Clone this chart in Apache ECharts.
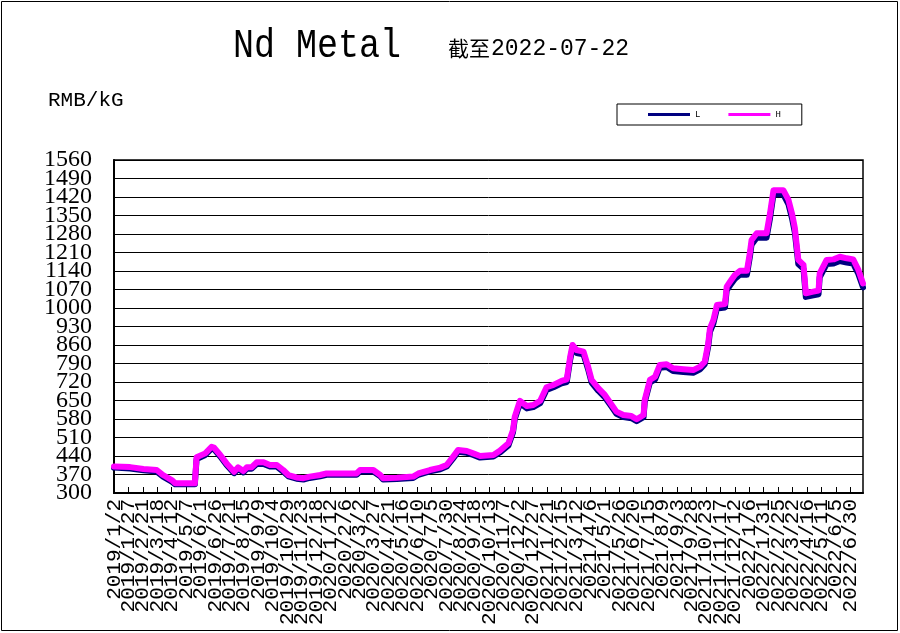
<!DOCTYPE html>
<html>
<head>
<meta charset="utf-8">
<script src="https://cdn.jsdelivr.net/npm/echarts@6/dist/echarts.min.js"></script>
<style>html,body{margin:0;padding:0;background:#fff}#c{width:900px;height:633px}</style>
</head>
<body>
<div id="c"></div>
<script>
// Category range (daily)
const startDate = '2019-01-02';
const endDate = '2022-07-22';
// Y tick labels
const yTicks = [300,370,440,510,580,650,720,790,860,930,1000,1070,1140,1210,1280,1350,1420,1490,1560];
// Breakpoint dates
const dates = ['2019/1/2','2019/1/30','2019/2/22','2019/3/17','2019/3/28','2019/4/12','2019/4/18','2019/5/22','2019/5/25','2019/6/9','2019/6/20','2019/6/24','2019/7/5','2019/7/16','2019/7/29','2019/8/5','2019/8/14','2019/8/20','2019/8/28','2019/9/6','2019/9/18','2019/9/29','2019/10/11','2019/10/22','2019/10/31','2019/11/14','2019/11/26','2019/12/7','2019/12/25','2020/1/5','2020/2/3','2020/2/26','2020/3/3','2020/3/26','2020/4/7','2020/4/12','2020/5/6','2020/6/3','2020/6/12','2020/7/2','2020/7/20','2020/7/31','2020/8/11','2020/8/20','2020/9/4','2020/9/15','2020/9/27','2020/10/20','2020/10/31','2020/11/15','2020/11/23','2020/11/26','2020/12/5','2020/12/17','2020/12/28','2021/1/9','2021/1/20','2021/2/1','2021/2/15','2021/2/24','2021/3/2','2021/3/6','2021/3/13','2021/3/25','2021/4/2','2021/4/8','2021/4/20','2021/5/1','2021/5/13','2021/5/21','2021/6/2','2021/6/16','2021/6/25','2021/7/7','2021/7/9','2021/7/18','2021/7/27','2021/8/4','2021/8/16','2021/8/27','2021/9/14','2021/10/1','2021/10/13','2021/10/21','2021/10/27','2021/10/30','2021/11/5','2021/11/11','2021/11/25','2021/11/28','2021/12/4','2021/12/12','2021/12/21','2022/1/2','2022/1/7','2022/1/10','2022/1/19','2022/2/5','2022/2/11','2022/2/17','2022/3/6','2022/3/15','2022/3/21','2022/3/26','2022/4/1','2022/4/10','2022/4/14','2022/4/27','2022/5/6','2022/5/8','2022/5/20','2022/6/1','2022/6/12','2022/6/24','2022/7/5','2022/7/14','2022/7/22'];
const highValues = [400,398,391,387,368,349,337,337,435,450,475,472,444,412,380,397,383,397,397,416,416,406,406,387,368,359,356,362,368,374,374,374,387,387,368,356,358,362,374,387,396,406,437,463,459,450,440,444,460,488,538,589,649,629,633,649,700,709,724,730,816,860,841,835,778,728,696,671,633,608,595,591,579,595,652,728,740,784,787,772,768,765,778,797,866,923,955,1011,1015,1081,1100,1125,1141,1141,1207,1257,1283,1283,1358,1446,1446,1409,1358,1302,1182,1163,1056,1062,1066,1131,1182,1184,1194,1188,1184,1144,1093];
const lowValues = [396,393,386,381,362,343,333,333,428,444,468,466,438,406,375,391,378,392,392,410,410,400,400,381,363,354,351,357,363,369,369,369,381,381,363,351,353,357,369,382,390,400,430,456,452,444,434,438,453,480,530,580,640,620,625,640,690,700,715,720,805,848,830,825,768,718,686,662,625,600,587,583,572,587,643,718,730,774,777,762,758,755,768,787,855,910,942,998,1002,1067,1086,1110,1126,1126,1192,1240,1266,1266,1340,1430,1430,1392,1340,1285,1166,1148,1042,1048,1052,1116,1166,1168,1178,1172,1168,1129,1078];

const categories = [];
(function(){
  let t = Date.parse(startDate + 'T00:00:00Z');
  const e = Date.parse(endDate + 'T00:00:00Z');
  while (t <= e) {
    const d = new Date(t);
    categories.push(d.getUTCFullYear() + '/' + (d.getUTCMonth()+1) + '/' + d.getUTCDate());
    t += 86400000;
  }
})();

const labelStep = 25;
const xLabelStyle = {rotate: 90, color: '#000', fontFamily: 'Liberation Mono', fontSize: 21, margin: 6, hideOverlap: false};
const yLabelStyle = {formatter: (v) => String(v), color: '#000', fontFamily: 'Liberation Serif', fontSize: 24, margin: 22, hideOverlap: false};
const yTicksA = yTicks.filter((v, i) => i % 2 === 0);
const yTicksB = yTicks.filter((v, i) => i % 2 === 1);

const chart = echarts.init(document.getElementById('c'));
chart.setOption({
  backgroundColor: '#fff',
  animation: false,
  graphic: [
    {type:'rect', shape:{x:1.5,y:1.5,width:896,height:629}, style:{fill:'none', stroke:'#000', lineWidth:1}},
    {type:'text', left:233, top:26, style:{text:'Nd Metal', font:'35px "Liberation Mono"', fill:'#000'}, scaleY:1.15},
    {type:'text', left:448, top:38, style:{text:'截至', font:'21px "Noto Sans CJK SC"', fill:'#000'}},
    {type:'text', left:491, top:37, style:{text:'2022-07-22', font:'23px "Liberation Mono"', fill:'#000'}},
    {type:'text', left:48, top:90, style:{text:'RMB/kG', font:'21px "Liberation Mono"', fill:'#000'}}
  ],
  legend: {
    left: 617, top: 104,
    padding: [6, 21, 6, 31],
    itemGap: 28,
    itemWidth: 42, itemHeight: 3,
    icon: 'rect',
    borderColor: '#000', borderWidth: 1,
    textStyle: {fontSize: 9, fontFamily: 'Liberation Mono', color: '#000'},
    data: ['L','H']
  },
  grid: {left: 114, right: 37, top: 160, bottom: 140, show: true, borderColor: '#000', borderWidth: 1.5, backgroundColor: '#fff'},
  xAxis: [{
    type: 'category',
    data: categories,
    boundaryGap: false,
    position: 'bottom',
    axisLine: {lineStyle: {color: '#000', width: 2}},
    axisTick: {inside: true, interval: labelStep - 1, length: 6, lineStyle: {color: '#000'}},
    axisLabel: Object.assign({interval: (i) => i % (2 * labelStep) === 0}, xLabelStyle),
    splitLine: {show: false}
  }, {
    type: 'category',
    data: categories,
    boundaryGap: false,
    position: 'bottom',
    offset: 0,
    axisLine: {show: false},
    axisTick: {show: false},
    axisLabel: Object.assign({interval: (i) => i % (2 * labelStep) === labelStep}, xLabelStyle),
    splitLine: {show: false}
  }],
  yAxis: [{
    type: 'value',
    min: 300, max: 1560,
    position: 'left',
    axisLine: {show: true, lineStyle: {color: '#000', width: 2}},
    axisTick: {show: false, customValues: yTicks},
    axisLabel: Object.assign({customValues: yTicksA, showMinLabel: true, showMaxLabel: true}, yLabelStyle),
    splitLine: {show: true, customValues: yTicks, lineStyle: {color: '#000', width: 1}}
  }, {
    type: 'value',
    min: 300, max: 1560,
    position: 'left',
    offset: 0,
    axisLine: {show: false},
    axisTick: {show: false},
    axisLabel: Object.assign({customValues: yTicksB}, yLabelStyle),
    splitLine: {show: false}
  }],
  series: [
    {name: 'L', type: 'line', xAxisIndex: 0, yAxisIndex: 0, data: dates.map((d, i) => [d, lowValues[i]]), showSymbol: false, lineStyle: {color: '#000080', width: 6, join: 'round', cap: 'round'}, itemStyle: {color: '#000080'}},
    {name: 'H', type: 'line', xAxisIndex: 0, yAxisIndex: 0, data: dates.map((d, i) => [d, highValues[i]]), showSymbol: false, lineStyle: {color: '#ff00ff', width: 6, join: 'round', cap: 'round'}, itemStyle: {color: '#ff00ff'}}
  ]
});
</script>
</body>
</html>
